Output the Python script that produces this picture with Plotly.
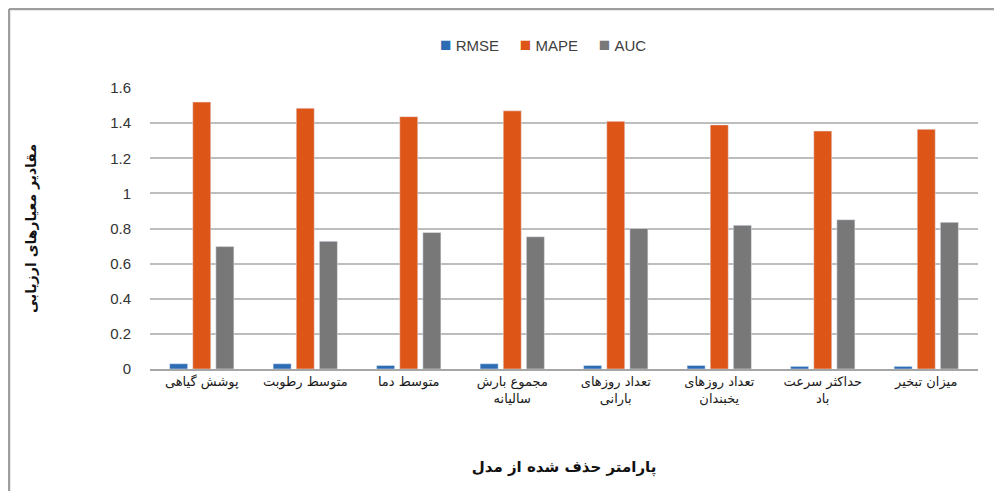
import plotly.graph_objects as go

categories = [
    "پوشش گیاهی",
    "متوسط رطوبت",
    "متوسط دما",
    "مجموع بارش<br>سالیانه",
    "تعداد روزهای<br>بارانی",
    "تعداد روزهای<br>یخبندان",
    "حداکثر سرعت<br>باد",
    "میزان تبخیر",
]
series_names = ["RMSE", "MAPE", "AUC"]
series_colors = ["#2e6db4", "#de5518", "#787878"]
rmse = [0.03, 0.03, 0.02, 0.03, 0.02, 0.02, 0.015, 0.015]
mape = [1.52, 1.485, 1.437, 1.47, 1.41, 1.39, 1.355, 1.365]
auc = [0.697, 0.727, 0.777, 0.753, 0.80, 0.818, 0.85, 0.835]
y_ticks = [0, 0.2, 0.4, 0.6, 0.8, 1, 1.2, 1.4, 1.6]
y_ticktext = ["0", "0.2", "0.4", "0.6", "0.8", "1", "1.2", "1.4", "1.6"]

fig = go.Figure()
for name, vals, col in zip(series_names, [rmse, mape, auc], series_colors):
    fig.add_trace(go.Bar(x=categories, y=vals, name=name, marker_color=col, showlegend=False))

OFF = 8  # page body offset
L, R, T, B = 150 - OFF, 32, 88 - OFF, 130
W, H = 1002, 491
pw, ph = W - L - R, H - T - B

fig.update_layout(
    width=W, height=H,
    margin=dict(l=L, r=R, t=T, b=B),
    paper_bgcolor="white", plot_bgcolor="white",
    barmode="group", bargap=0.33, bargroupgap=0.22,
    font=dict(family="DejaVu Sans, Liberation Sans, sans-serif", color="#262626"),
    xaxis=dict(showgrid=False, showline=True, linecolor="#a6a6a6", linewidth=1.5,
               tickfont=dict(size=13, color="#1a1a1a", family="DejaVu Sans"),
               ticks="", title=dict(text="<b>پارامتر حذف شده از مدل</b>",
                                    font=dict(size=15, color="#111111", family="DejaVu Sans"),
                                    standoff=55)),
    yaxis=dict(range=[0, 1.6], tickvals=y_ticks, ticktext=y_ticktext,
               showgrid=True, gridcolor="#bdbdbd", gridwidth=1.5, zeroline=False,
               tickfont=dict(size=15, color="#333333", family="Liberation Sans"),
               ticklabelstandoff=18,
               title=dict(text="<b>مقادیر معیارهای ارزیابی</b>",
                          font=dict(size=14, color="#111111", family="DejaVu Sans"),
                          standoff=70)),
)

# legend drawn as a single centred text line
legend_text = "&nbsp;&nbsp;&nbsp;&nbsp;&nbsp;".join(
    f"<span style='color:{c};font-size:19px'>■</span>&nbsp;{n}"
    for n, c in zip(series_names, series_colors)
)
fig.add_annotation(text=legend_text, xref="paper", yref="paper",
                   x=(543 - OFF - L) / pw, y=1 + (T - (45 - OFF)) / ph,
                   xanchor="center", yanchor="middle", showarrow=False,
                   font=dict(size=15, family="Liberation Sans, DejaVu Sans", color="#404040"))

# outer frame (left and top edges)
fx = (1 - L) / pw
fy = 1 + (T - 1) / ph
fig.add_shape(type="line", xref="paper", yref="paper", x0=fx, x1=fx, y0=fy, y1=-B / ph,
              line=dict(color="#9e9e9e", width=2.5))
fig.add_shape(type="line", xref="paper", yref="paper", x0=fx, x1=1 + R / pw, y0=fy, y1=fy,
              line=dict(color="#9e9e9e", width=2.5))

fig.write_html("out.html")
